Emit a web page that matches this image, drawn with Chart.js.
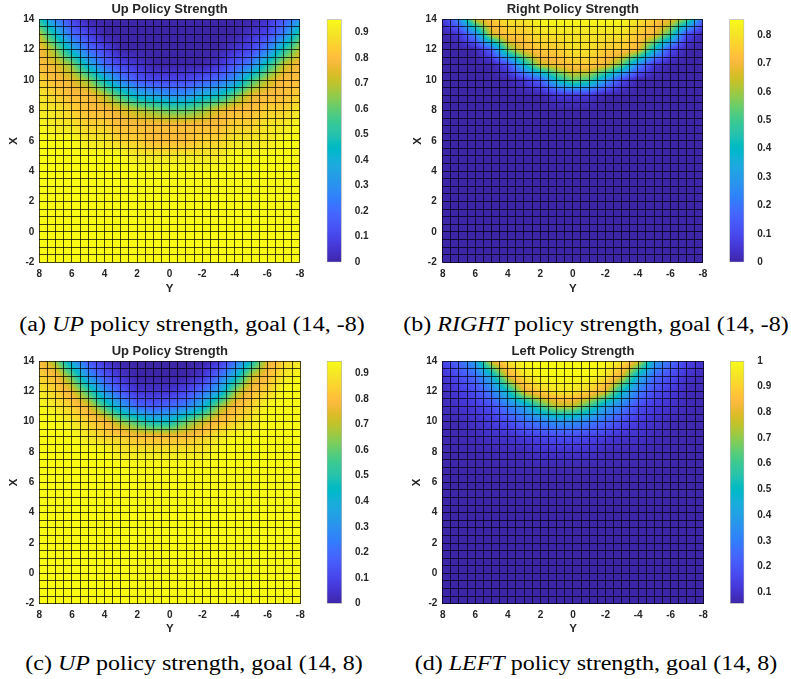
<!DOCTYPE html>
<html><head><meta charset="utf-8">
<script src="https://cdn.jsdelivr.net/npm/chart.js@4.4.1/dist/chart.umd.min.js"></script>
<style>
html,body{margin:0;padding:0;background:#fff;}
#fig{position:relative;width:791px;height:679px;overflow:hidden;background:#fff;}
canvas{position:absolute;}
.cap{position:absolute;font-family:"Liberation Serif","Times New Roman",serif;font-size:20px;line-height:20px;color:#000;white-space:nowrap;transform:translateX(-50%) scaleX(1.2);transform-origin:center;}
</style></head><body><div id="fig">
<canvas id="mainA" width="310" height="300" style="left:0;top:0;width:310px;height:300px"></canvas>
<canvas id="barA" width="75" height="300" style="left:320px;top:0;width:75px;height:300px"></canvas>
<canvas id="mainB" width="318" height="300" style="left:395px;top:0;width:318px;height:300px"></canvas>
<canvas id="barB" width="68" height="300" style="left:723px;top:0;width:68px;height:300px"></canvas>
<canvas id="mainC" width="310" height="300" style="left:0;top:340px;width:310px;height:300px"></canvas>
<canvas id="barC" width="75" height="300" style="left:320px;top:340px;width:75px;height:300px"></canvas>
<canvas id="mainD" width="318" height="300" style="left:395px;top:340px;width:318px;height:300px"></canvas>
<canvas id="barD" width="68" height="300" style="left:723px;top:340px;width:68px;height:300px"></canvas>
<div class="cap" style="left:191.5px;top:314px">(a) <i>UP</i> policy strength, goal (14, -8)</div>
<div class="cap" style="left:595.5px;top:314px">(b) <i>RIGHT</i> policy strength, goal (14, -8)</div>
<div class="cap" style="left:194px;top:653px">(c) <i>UP</i> policy strength, goal (14, 8)</div>
<div class="cap" style="left:596px;top:653px">(d) <i>LEFT</i> policy strength, goal (14, 8)</div>
</div>
<script>
// ---------- data ----------
// horizontal axis ("Y") grid coordinates, left to right
const yCoords = [8,7,6,5,4,3,2,1,0,-1,-2,-3,-4,-5,-6,-7,-8];
// vertical axis ("X") grid coordinates, top to bottom
const xCoords = [14,13,12,11,10,9,8,7,6,5,4,3,2,1,0,-1,-2];
// value codes:
//   LEVELS      index * 0.05
//   HALF_LEVELS index * 0.05 + 0.025
//   FINE_LEVELS 0.056 + index * 0.004 (low values)
const LEVELS = "0123456789ABCDEFGHIJK";
const HALF_LEVELS = "abcdefghijklmnopqrst";
const FINE_LEVELS = "uvwxyz";

const upStrengthGoalNeg8 = [
  "A5200000000000136",
  "E942000000000125B",
  "GD8420000000125AE",
  "GFD84210000135AEG",
  "HGFD953222346BEGG",
  "IHGGEB876689CFGGH",
  "IIHGGFEDCCDFGGHHI",
  "JIIHHGGGGGGGHHIIJ",
  "JJJIIHHGGGHHIIIJJ",
  "JJJJJJIIIIIIJJJJJ",
  "JJJJJJJJJJJJJJJJJ",
  "JJJJJJJJJJJJJJJJJ",
  "JJJJJJJJJJJJJJJJJ",
  "JJJJJJJJJJJJJJJJJ",
  "JJJJJJJJJJJJJJJJJ",
  "JJJJJJJJJJJJJJJJJ",
  "JJJJJJJJJJJJJJJJJ"
];
const rightStrengthGoalNeg8 = [
  "15DFGGHHHHHHGFEB3",
  "015DFFGGGGGGFEA20",
  "0003BEFFGGFFE8200",
  "000028DEFFEB51000",
  "00000138BA6200000",
  "00000001110000000",
  "00000000000000000",
  "00000000000000000",
  "00000000000000000",
  "00000000000000000",
  "00000000000000000",
  "00000000000000000",
  "00000000000000000",
  "00000000000000000",
  "00000000000000000",
  "00000000000000000",
  "00000000000000000"
];
const upStrengthGoalPos8 = [
  "GD731000000149FHI",
  "HGC6310000148EGIJ",
  "IHFB63111247DGHJJ",
  "JIHFB743458DGHJJJ",
  "JJIHGDB99CEGHIJJJ",
  "JJJIHHGGGGHIJJJJJ",
  "JJJJJIIIIIIJJJJJJ",
  "JJJJJJJJJJJJJJJJJ",
  "JJJJJJJJJJJJJJJJJ",
  "JJJJJJJJJJJJJJJJJ",
  "JJJJJJJJJJJJJJJJJ",
  "JJJJJJJJJJJJJJJJJ",
  "JJJJJJJJJJJJJJJJJ",
  "JJJJJJJJJJJJJJJJJ",
  "JJJJJJJJJJJJJJJJJ",
  "JJJJJJJJJJJJJJJJJ",
  "JJJJJJJJJJJJJJJJJ"
];
const leftStrengthGoalPos8 = [
  "358GJKKKKKKJG8532",
  "2d59GJKKKKJG95d2z",
  "zcd6AGIJJIGA6dczy",
  "z2cd68CFFC86dc2zw",
  "xz2cd567765dc2zxw",
  "wxz22c3dd3c22zxwv",
  "vwwyzz2222zzywwvu",
  "uvvwwxxxxxxwwvvuu",
  "uuuvvvvvvvvvvuuuu",
  "uuuuuuuuuuuuuuuuu",
  "11111111111111111",
  "11111111111111111",
  "11111111111111111",
  "11111111111111111",
  "11111111111111111",
  "11111111111111111",
  "11111111111111111"
];
const panelTitles = ["Up Policy Strength","Right Policy Strength","Up Policy Strength","Left Policy Strength"];
const colorMin = [0, 0, 0, 0.055];
const colorMax = [0.951, 0.856, 0.948, 1.0];
const xTickLabels = ["8","6","4","2","0","-2","-4","-6","-8"];
const yTickLabels = ["14","12","10","8","6","4","2","0","-2"];

// ---------- style ----------
const PARULA = [
[0.2422,0.1504,0.6603],[0.2504,0.1650,0.7076],[0.2578,0.1818,0.7511],[0.2647,0.1978,0.7952],
[0.2706,0.2147,0.8364],[0.2751,0.2342,0.8710],[0.2783,0.2559,0.8991],[0.2803,0.2782,0.9221],
[0.2813,0.3006,0.9414],[0.2810,0.3228,0.9579],[0.2795,0.3447,0.9717],[0.2760,0.3667,0.9829],
[0.2699,0.3892,0.9906],[0.2602,0.4123,0.9952],[0.2440,0.4358,0.9988],[0.2206,0.4603,0.9973],
[0.1963,0.4847,0.9892],[0.1834,0.5074,0.9798],[0.1786,0.5289,0.9682],[0.1764,0.5499,0.9520],
[0.1687,0.5703,0.9359],[0.1540,0.5902,0.9218],[0.1460,0.6091,0.9079],[0.1380,0.6276,0.8973],
[0.1248,0.6459,0.8883],[0.1113,0.6635,0.8763],[0.0952,0.6798,0.8598],[0.0689,0.6948,0.8394],
[0.0297,0.7082,0.8163],[0.0036,0.7203,0.7917],[0.0067,0.7312,0.7660],[0.0433,0.7411,0.7394],
[0.0964,0.7500,0.7120],[0.1408,0.7584,0.6842],[0.1717,0.7670,0.6554],[0.1938,0.7758,0.6251],
[0.2161,0.7843,0.5923],[0.2470,0.7918,0.5567],[0.2906,0.7973,0.5188],[0.3406,0.8008,0.4789],
[0.3909,0.8029,0.4354],[0.4456,0.8024,0.3909],[0.5044,0.7993,0.3480],[0.5616,0.7942,0.3045],
[0.6174,0.7876,0.2612],[0.6720,0.7793,0.2227],[0.7242,0.7698,0.1910],[0.7738,0.7598,0.1646],
[0.8203,0.7498,0.1535],[0.8634,0.7406,0.1596],[0.9035,0.7330,0.1774],[0.9393,0.7288,0.2100],
[0.9728,0.7298,0.2394],[0.9956,0.7434,0.2371],[0.9970,0.7659,0.2199],[0.9952,0.7893,0.2028],
[0.9892,0.8136,0.1885],[0.9786,0.8386,0.1766],[0.9676,0.8639,0.1643],[0.9610,0.8890,0.1537],
[0.9597,0.9135,0.1423],[0.9628,0.9373,0.1265],[0.9691,0.9606,0.1064],[0.9769,0.9839,0.0805]
];
const TXT = '#262626';
const MESH = 'rgba(0,0,0,0.72)';
Chart.defaults.font.family = '"Liberation Sans", Arial, Helvetica, sans-serif';

function parula(t) {
  t = Math.max(0, Math.min(1, t));
  const p = t * (PARULA.length - 1);
  const i = Math.min(Math.floor(p), PARULA.length - 2);
  const f = p - i;
  const a = PARULA[i], b = PARULA[i + 1];
  return [0,1,2].map(k => Math.round(255 * (a[k] + (b[k] - a[k]) * f)));
}
function decodeChar(ch) {
  let i = LEVELS.indexOf(ch);
  if (i >= 0) return i * 0.05;
  i = HALF_LEVELS.indexOf(ch);
  if (i >= 0) return i * 0.05 + 0.025;
  return 0.056 + FINE_LEVELS.indexOf(ch) * 0.004;
}
function decode(rows) {
  return rows.map(r => Array.from(r).map(decodeChar));
}

function heatmapPlugin(grid, cmin, cmax) {
  return {
    id: 'heatmap',
    beforeDraw(chart) {
      const {ctx, chartArea: a, scales} = chart;
      const sx = scales.x, sy = scales.y;
      const x0 = Math.floor(a.left), x1 = Math.ceil(a.right);
      const y0 = Math.floor(a.top), y1 = Math.ceil(a.bottom);
      const w = x1 - x0, h = y1 - y0;
      const img = ctx.createImageData(w, h);
      const nR = xCoords.length, nC = yCoords.length;
      const dR = xCoords[0] - xCoords[1], dC = yCoords[0] - yCoords[1];
      for (let py = 0; py < h; py++) {
        const Xv = sy.getValueForPixel(y0 + py + 0.5);
        let r = (xCoords[0] - Xv) / dR;
        r = Math.max(0, Math.min(nR - 1, r));
        const r0 = Math.min(Math.floor(r), nR - 2), fr = r - r0;
        for (let px = 0; px < w; px++) {
          const Yv = sx.getValueForPixel(x0 + px + 0.5);
          let c = (yCoords[0] - Yv) / dC;
          c = Math.max(0, Math.min(nC - 1, c));
          const c0 = Math.min(Math.floor(c), nC - 2), fc = c - c0;
          const v = grid[r0][c0] * (1 - fr) * (1 - fc) + grid[r0][c0 + 1] * (1 - fr) * fc +
                    grid[r0 + 1][c0] * fr * (1 - fc) + grid[r0 + 1][c0 + 1] * fr * fc;
          const col = parula((v - cmin) / (cmax - cmin));
          const k = (py * w + px) * 4;
          img.data[k] = col[0]; img.data[k + 1] = col[1]; img.data[k + 2] = col[2]; img.data[k + 3] = 255;
        }
      }
      ctx.putImageData(img, x0, y0);
    }
  };
}

function tickLabel(list) {
  return function (v) {
    const s = String(Math.round(v * 10) / 10);
    return list.includes(s) ? s : '';
  };
}

function makePanel(id, rows, title, cmin, cmax, L) {
  const grid = decode(rows);
  const points = [];
  xCoords.forEach((X, r) => yCoords.forEach((Y, c) => points.push({x: Y, y: X, v: grid[r][c]})));
  new Chart(document.getElementById(id), {
    type: 'scatter',
    data: {datasets: [{data: points, pointRadius: 0, pointHoverRadius: 0, showLine: false}]},
    options: {
      responsive: false, animation: false, devicePixelRatio: 1, events: [],
      layout: {padding: {left: 0, right: L.padRight, top: 0, bottom: 0}},
      plugins: {
        legend: {display: false}, tooltip: {enabled: false},
        title: {display: true, text: title, fullSize: false, color: TXT,
                font: {size: 13, weight: 'bold'}, padding: {top: L.titleTop, bottom: 2}}
      },
      scales: {
        x: {
          type: 'linear', min: -8, max: 8, reverse: true,
          afterFit: s => { s.height = L.xAxisH; },
          grid: {color: MESH, lineWidth: 1, drawTicks: false},
          border: {display: false},
          ticks: {stepSize: 0.5, autoSkip: false, maxRotation: 0, minRotation: 0, padding: L.xTickPad,
                  color: TXT, font: {size: 10, weight: 'bold'}, callback: tickLabel(xTickLabels)},
          title: {display: true, text: 'Y', color: TXT, font: {size: 11.5, weight: 'bold'},
                  padding: {top: 0, bottom: L.xTitlePad}}
        },
        y: {
          type: 'linear', min: -2, max: 14,
          afterFit: s => { s.width = L.yAxisW; },
          grid: {color: MESH, lineWidth: 1, drawTicks: false},
          border: {display: false},
          ticks: {stepSize: 0.5, autoSkip: false, padding: L.yTickPad,
                  color: TXT, font: {size: 10, weight: 'bold'}, callback: tickLabel(yTickLabels)},
          title: {display: true, text: 'X', color: TXT, font: {size: 11.5, weight: 'bold'},
                  padding: {top: L.yTitlePad, bottom: 0}}
        }
      }
    },
    plugins: [heatmapPlugin(grid, cmin, cmax)]
  });
}

function makeColorbar(id, cmin, cmax, L) {
  new Chart(document.getElementById(id), {
    type: 'bar',
    data: {labels: ['c'], datasets: [{
      data: [[cmin, cmax]],
      backgroundColor: (ctx) => {
        const ch = ctx.chart, a = ch.chartArea;
        if (!a) return '#888';
        const g = ch.ctx.createLinearGradient(0, a.bottom, 0, a.top);
        PARULA.forEach((c, i) => g.addColorStop(i / (PARULA.length - 1),
          `rgb(${Math.round(c[0]*255)},${Math.round(c[1]*255)},${Math.round(c[2]*255)})`));
        return g;
      },
      borderColor: '#b4b4b4', borderWidth: 1, borderSkipped: false,
      barPercentage: 1, categoryPercentage: 1
    }]},
    options: {
      responsive: false, animation: false, devicePixelRatio: 1, events: [],
      layout: {padding: {left: L.left, right: 0, top: L.top, bottom: L.bottom}},
      plugins: {legend: {display: false}, tooltip: {enabled: false}},
      scales: {
        x: {display: false},
        y: {
          position: 'right', min: cmin, max: cmax,
          afterFit: s => { s.width = L.axisW; },
          grid: {display: false}, border: {display: false},
          ticks: {stepSize: 0.1, includeBounds: false, padding: 5, color: TXT,
                  font: {size: 10, weight: 'bold'},
                  callback: v => String(Math.round(v * 10) / 10)}
        }
      }
    }
  });
}

const layoutA = {padRight: 9.3, titleTop: 1.7, xAxisH: 37.7, xTickPad: 5.7, xTitlePad: 4.4, yAxisW: 39.3, yTickPad: 5, yTitlePad: 7};
const layoutB = {padRight: 9.7, titleTop: 1.7, xAxisH: 37.7, xTickPad: 5.7, xTitlePad: 4.4, yAxisW: 47.7, yTickPad: 6, yTitlePad: 15.8};
const layoutC = {padRight: 9.3, titleTop: 3.4, xAxisH: 36.3, xTickPad: 5.3, xTitlePad: 3.8, yAxisW: 39.3, yTickPad: 5, yTitlePad: 7};
const layoutD = {padRight: 9.7, titleTop: 3.4, xAxisH: 36.3, xTickPad: 5.3, xTitlePad: 3.8, yAxisW: 47.7, yTickPad: 5.4, yTitlePad: 14.8};

makePanel('mainA', upStrengthGoalNeg8, panelTitles[0], colorMin[0], colorMax[0], layoutA);
makePanel('mainB', rightStrengthGoalNeg8, panelTitles[1], colorMin[1], colorMax[1], layoutB);
makePanel('mainC', upStrengthGoalPos8, panelTitles[2], colorMin[2], colorMax[2], layoutC);
makePanel('mainD', leftStrengthGoalPos8, panelTitles[3], colorMin[3], colorMax[3], layoutD);

makeColorbar('barA', colorMin[0], colorMax[0], {left: 6.7, top: 19.3, bottom: 37.7, axisW: 53.3});
makeColorbar('barB', colorMin[1], colorMax[1], {left: 6.3, top: 19.3, bottom: 37.7, axisW: 46.7});
makeColorbar('barC', colorMin[2], colorMax[2], {left: 6.7, top: 21, bottom: 36.3, axisW: 53});
makeColorbar('barD', colorMin[3], colorMax[3], {left: 7, top: 21, bottom: 36.3, axisW: 46.7});
</script>
</body></html>
